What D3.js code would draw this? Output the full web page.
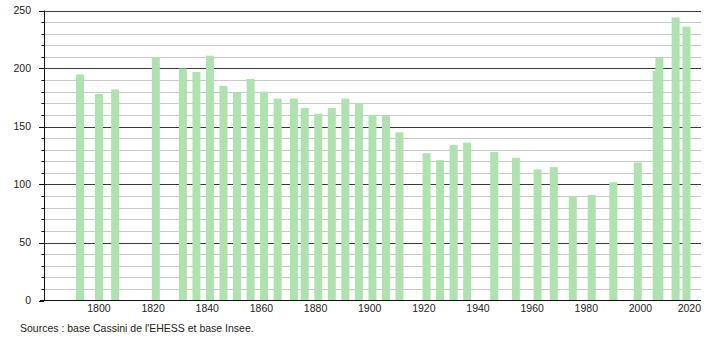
<!DOCTYPE html>
<html lang="fr">
<head>
    <meta charset="UTF-8">
    <title>Évolution démographique</title>
    <style>
        body{
            margin: 0;
            background: #fff;
        }
        svg text{
            font-family: "Liberation Sans", Arial, sans-serif;
            fill: #222;
        }
    </style>
</head>
<body>

<svg id="chart" width="710" height="340"></svg>

<script src="https://cdn.jsdelivr.net/npm/d3@7/dist/d3.min.js"></script>

<script>

// census years and population
var years = [1793, 1800, 1806, 1821, 1831, 1836, 1841, 1846, 1851, 1856,
             1861, 1866, 1872, 1876, 1881, 1886, 1891, 1896, 1901, 1906,
             1911, 1921, 1926, 1931, 1936, 1946, 1954, 1962, 1968, 1975,
             1982, 1990, 1999, 2006, 2007, 2013, 2017];
var population = [195, 178, 182, 210, 200, 197, 211, 185, 179, 191,
                  180, 174, 174, 166, 161, 166, 174, 170, 160, 159,
                  145, 127, 121, 134, 136, 128, 123, 113, 115, 90,
                  91, 102, 119, 198, 209, 244, 236];
var xTicks = [1800, 1820, 1840, 1860, 1880, 1900, 1920, 1940, 1960, 1980, 2000, 2020];
var yTicks = [0, 50, 100, 150, 200, 250];
var source = "Sources : base Cassini de l'EHESS et base Insee.";

// note: "top" is reserved on window, so plot edges get their own names
var svg = d3.select("#chart"),
    plotLeft = 44, plotRight = 700, plotTop = 10.5, plotBottom = 300.5,
    barWidth = 8;

var x = d3.scaleLinear().domain([1779.7, 2022]).range([plotLeft, plotRight]),
    y = d3.scaleLinear().domain([0, 250]).range([plotBottom, plotTop]);

// horizontal grid, one line every 10
var grid = d3.range(10, 251, 10);
svg.append("g")
    .selectAll("line")
    .data(grid)
    .enter()
    .append("line")
        .attr("x1", plotLeft)
        .attr("x2", plotRight + 1)
        .attr("y1", d => Math.round(y(d)) + 0.5)
        .attr("y2", d => Math.round(y(d)) + 0.5)
        .attr("stroke", d => d % 50 === 0 ? "#3a3a3a" : "#c9c9c9")
        .attr("stroke-width", 1);

// bars
var data = years.map((yr, i) => ({year: yr, value: population[i]}));
svg.append("g")
    .selectAll("rect")
    .data(data)
    .enter()
    .append("rect")
        .attr("x", d => x(d.year) - barWidth / 2)
        .attr("width", barWidth)
        .attr("y", d => y(d.value))
        .attr("height", d => plotBottom - y(d.value))
        .attr("fill", "#aee2ae");

// y axis with major + minor ticks
var yAxis = svg.append("g");
yAxis.append("line")
    .attr("x1", plotLeft + 0.5).attr("x2", plotLeft + 0.5)
    .attr("y1", y(250)).attr("y2", plotBottom)
    .attr("stroke", "#111");
yAxis.selectAll("line.tick")
    .data(grid.concat([0]))
    .enter()
    .append("line")
        .attr("class", "tick")
        .attr("x1", d => d % 50 === 0 ? plotLeft - 5 : plotLeft - 2.5)
        .attr("x2", plotLeft)
        .attr("y1", d => Math.round(y(d)) + 0.5)
        .attr("y2", d => Math.round(y(d)) + 0.5)
        .attr("stroke", "#111");
yAxis.selectAll("text")
    .data(yTicks)
    .enter()
    .append("text")
        .attr("x", 31)
        .attr("y", d => y(d))
        .attr("dy", "0.35em")
        .attr("text-anchor", "end")
        .style("font-size", "10.5px")
        .text(d => d);

// x axis
svg.append("line")
    .attr("x1", plotLeft - 4).attr("x2", plotRight + 1)
    .attr("y1", plotBottom).attr("y2", plotBottom)
    .attr("stroke", "#111");
svg.append("g")
    .selectAll("text")
    .data(xTicks)
    .enter()
    .append("text")
        .attr("x", d => x(d))
        .attr("y", 312)
        .attr("text-anchor", "middle")
        .style("font-size", "10.5px")
        .text(d => d)
        .each(function(d) { // keep last label inside the frame
            var w = this.getComputedTextLength();
            if (x(d) + w / 2 > plotRight + 1) d3.select(this).attr("x", plotRight + 1 - w / 2);
        });

svg.append("text")
    .attr("x", 20)
    .attr("y", 332)
    .style("font-size", "10.5px")
    .text(source);

</script>

</body>
</html>
